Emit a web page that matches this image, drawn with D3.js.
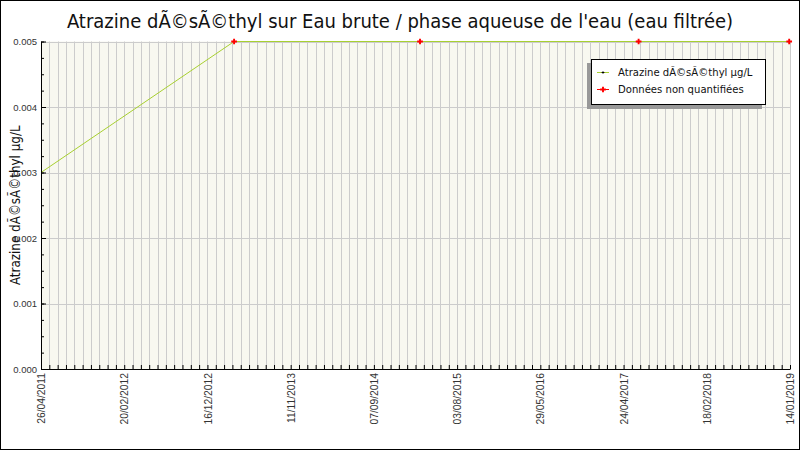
<!DOCTYPE html>
<html>
<head>
<meta charset="utf-8">
<script src="https://cdn.jsdelivr.net/npm/d3@7"></script>
<style>
    body { margin: 0; background: #fff; }
    svg { display: block; }
    .tick text { font-family: "Liberation Sans", Arial, sans-serif; font-size: 9.5px; fill: #333; }
    .xax .tick text { font-size: 10.3px; }
    .lbl { font-family: "DejaVu Sans Condensed", "DejaVu Sans", sans-serif; }
</style>
</head>
<body>
<div id="chart"></div>
<script>
// Atrazine déséthyl chart

const chartTitle = "Atrazine dÃ©sÃ©thyl sur Eau brute / phase aqueuse de l'eau (eau filtrée)";
const yTitle = 'Atrazine dÃ©sÃ©thyl µg/L';
const legendLabels = ['Atrazine dÃ©sÃ©thyl µg/L', 'Données non quantifiées'];

// x axis labels (one every 10 minor ticks)
const xTickLabels = ['26/04/2011', '20/02/2012', '16/12/2012', '11/11/2013', '07/09/2014',
    '03/08/2015', '29/05/2016', '24/04/2017', '18/02/2018', '14/01/2019'];
const yTicks = [0, 0.001, 0.002, 0.003, 0.004, 0.005];

// measurements
const sampleDates = ['2011-04-26', '2013-04-22', '2015-03-23', '2017-06-23', '2019-01-11'];
const sampleValues = [0.003, 0.005, 0.005, 0.005, 0.005];
const notQuantified = [false, true, true, true, true];

const W = 800, H = 450;
const margin = { top: 41.5, right: 10, bottom: 81, left: 41 };

drawChart();

function drawChart() {
    const svg = d3.select('#chart').append('svg')
        .attr('width', W)
        .attr('height', H);

    const parseDmy = d3.timeParse('%d/%m/%Y');
    const parseIso = d3.timeParse('%Y-%m-%d');
    const t0 = parseDmy(xTickLabels[0]);
    const t1 = parseDmy(xTickLabels[xTickLabels.length - 1]);

    const x = d3.scaleTime().domain([t0, t1]).range([margin.left, W - margin.right]);
    const y = d3.scaleLinear().domain([0, 0.005]).range([H - margin.bottom, margin.top]);

    // 90 equal steps, labels every 10th
    const nSteps = (xTickLabels.length - 1) * 10;
    const minorDates = d3.range(nSteps + 1).map(i => new Date(+t0 + i * (t1 - t0) / nSteps));
    const yMinor = d3.range(0, 21).map(i => i * 0.00025);

    // plot background
    svg.append('rect')
        .attr('x', x.range()[0])
        .attr('y', y.range()[1])
        .attr('width', x.range()[1] - x.range()[0])
        .attr('height', y.range()[0] - y.range()[1])
        .attr('fill', '#f8f8f0');

    // grid
    svg.append('g')
        .selectAll('line')
        .data(minorDates)
        .enter()
        .append('line')
        .attr('x1', d => Math.round(x(d)) + 0.5)
        .attr('x2', d => Math.round(x(d)) + 0.5)
        .attr('y1', y.range()[0])
        .attr('y2', y.range()[1])
        .attr('stroke', '#cccccc')
        .attr('stroke-width', 1);

    svg.append('g')
        .selectAll('line')
        .data(yTicks)
        .enter()
        .append('line')
        .attr('x1', x.range()[0])
        .attr('x2', x.range()[1])
        .attr('y1', d => Math.round(y(d)) + 0.5)
        .attr('y2', d => Math.round(y(d)) + 0.5)
        .attr('stroke', '#cccccc')
        .attr('stroke-width', 1);

    // data line
    const pts = sampleDates.map((d, i) => ({ date: parseIso(d), value: sampleValues[i], nq: notQuantified[i] }));
    svg.append('path')
        .datum(pts)
        .attr('fill', 'none')
        .attr('stroke', '#a8d030')
        .attr('stroke-width', 1)
        .attr('d', d3.line().x(d => x(d.date)).y(d => y(d.value)));

    // axes
    const yAxis = svg.append('g')
        .attr('transform', `translate(${x.range()[0]},0)`)
        .call(d3.axisLeft(y).tickValues(yTicks).tickSize(-5).tickSizeOuter(0).tickPadding(4).tickFormat(d3.format('.3f')));
    svg.append('g')
        .attr('transform', `translate(${x.range()[0]},0)`)
        .call(d3.axisLeft(y).tickValues(yMinor).tickSize(-3).tickSizeOuter(0).tickFormat(''))
        .select('.domain').remove();

    const xAxis = svg.append('g')
        .attr('class', 'xax')
        .attr('transform', `translate(0,${y.range()[0]})`)
        .call(d3.axisBottom(x).tickValues(minorDates).tickSize(-4).tickSizeOuter(0)
            .tickFormat((d, i) => i % 10 === 0 ? xTickLabels[i / 10] : ''));
    xAxis.selectAll('text')
        .attr('y', 0)
        .attr('x', -4)
        .attr('dy', '0.35em')
        .attr('transform', 'rotate(-90)')
        .style('text-anchor', 'end');

    [yAxis, xAxis].forEach(g => {
        g.selectAll('.tick line').attr('stroke', '#000');
        g.select('.domain').attr('stroke', '#000');
    });

    // red markers for non quantified values
    svg.append('g')
        .selectAll('path')
        .data(pts.filter(d => d.nq))
        .enter()
        .append('path')
        .attr('transform', d => `translate(${x(d.date)},${y(d.value)})`)
        .attr('d', d3.symbol().type(d3.symbolCross).size(18))
        .attr('fill', '#ff0000');

    // titles
    svg.append('text')
        .attr('class', 'lbl')
        .attr('x', 400)
        .attr('y', 28)
        .attr('text-anchor', 'middle')
        .attr('font-size', 20)
        .attr('fill', '#111')
        .text(chartTitle);

    svg.append('text')
        .attr('class', 'lbl')
        .attr('transform', `translate(20,${(y.range()[0] + y.range()[1]) / 2}) rotate(-90)`)
        .attr('text-anchor', 'middle')
        .attr('font-size', 13.3)
        .attr('fill', '#111')
        .text(yTitle);

    // legend
    const lg = svg.append('g').attr('transform', 'translate(591,59)');
    lg.append('rect').attr('x', -4).attr('y', 4).attr('width', 175).attr('height', 46).attr('fill', '#999');
    lg.append('rect').attr('x', 0.5).attr('y', 0.5).attr('width', 174).attr('height', 45)
        .attr('fill', '#fff').attr('stroke', '#000');
    const rows = lg.selectAll('.row')
        .data(legendLabels)
        .enter()
        .append('g')
        .attr('class', 'row')
        .attr('transform', (d, i) => `translate(0,${13.5 + i * 17})`);
    rows.append('line')
        .attr('x1', 6).attr('x2', 18)
        .attr('stroke', (d, i) => i === 0 ? '#a8d030' : '#ff0000');
    rows.append('path')
        .attr('transform', 'translate(12,0)')
        .attr('d', (d, i) => d3.symbol().type(d3.symbolCross).size(i === 0 ? 4 : 18)())
        .attr('fill', (d, i) => i === 0 ? '#000' : '#ff0000');
    rows.append('text')
        .attr('class', 'lbl')
        .attr('x', 27)
        .attr('dy', '0.35em')
        .attr('font-size', 11.2)
        .attr('fill', '#111')
        .text(d => d);

    // outer frame
    svg.append('rect')
        .attr('x', 0.5).attr('y', 0.5)
        .attr('width', W - 1).attr('height', H - 1)
        .attr('fill', 'none')
        .attr('stroke', '#000');
}
</script>
</body>
</html>
